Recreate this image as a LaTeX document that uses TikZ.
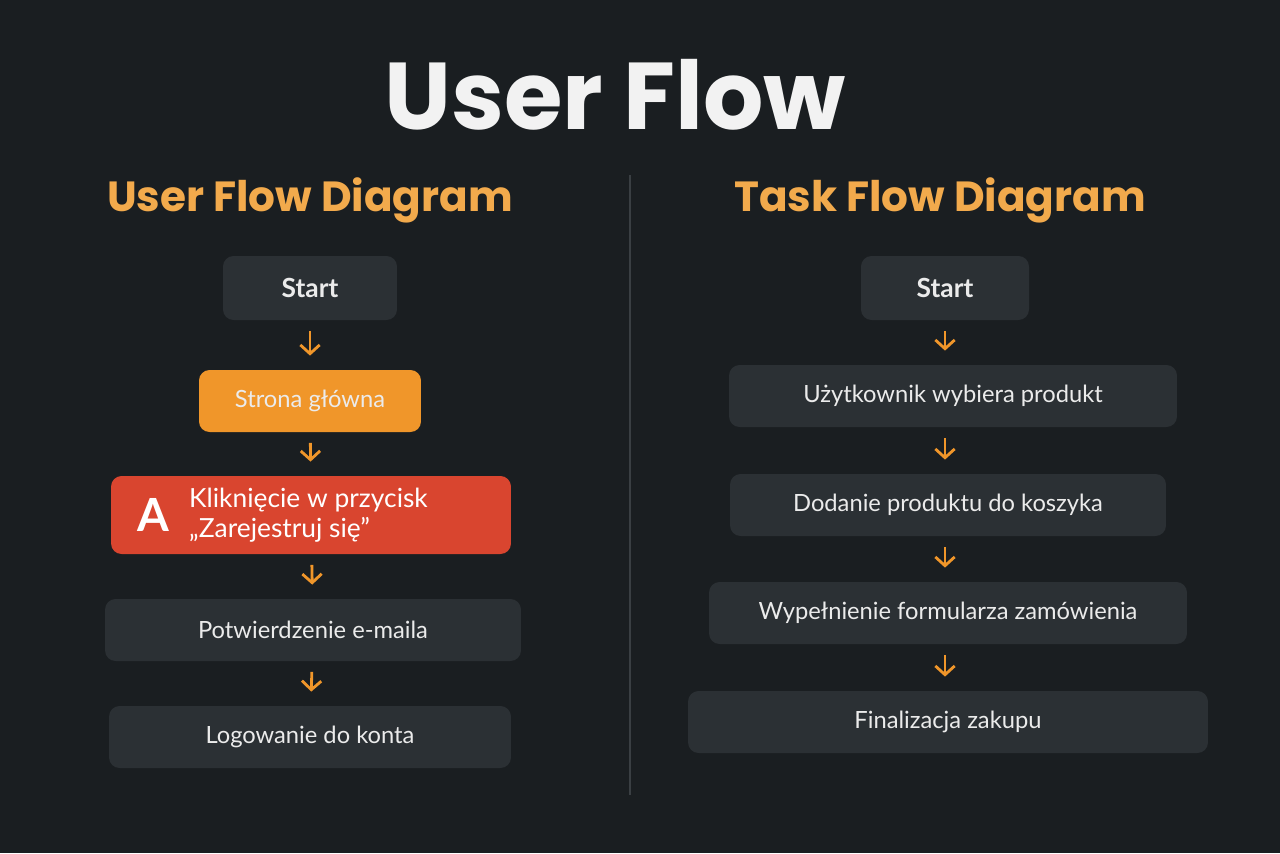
\documentclass[tikz,border=0pt]{standalone}
\usepackage{fontspec}
\setmainfont{Lato}
\newfontfamily\headfont{Poppins}
\usetikzlibrary{arrows.meta}
\definecolor{bgdark}{HTML}{1A1E21}
\definecolor{boxgray}{HTML}{2B3034}
\definecolor{flowora}{HTML}{F0962A}
\definecolor{flowred}{HTML}{D9452F}
\definecolor{headora}{HTML}{F2AA4C}
\definecolor{divgray}{HTML}{3A3F43}
\tikzset{
  flowbox/.style={draw=none, fill=boxgray, rounded corners=6pt, text=white!92!black,
    font=\fontsize{13.5}{16}\selectfont, inner sep=0pt},
  flow/.style={draw=flowora, line width=1.6pt, -{Straight Barb[length=5pt,width=11pt]},
    shorten <=6pt, shorten >=8pt},
}
\begin{document}
\begin{tikzpicture}[x=0.02cm, y=-0.02cm]
    \fill[bgdark] (0,0) rectangle (1280,853);
    \useasboundingbox (0,0) rectangle (1280,853);
    % headings
    \node[text=white!95!black, font=\headfont\bfseries\fontsize{54}{60}\selectfont] (title) at (615,95) {User Flow};
    \node[text=headora, font=\headfont\bfseries\fontsize{24}{28}\selectfont] (lefthead) at (310,200) {User Flow Diagram};
    \node[text=headora, font=\headfont\bfseries\fontsize{24}{28}\selectfont] (righthead) at (940,200) {Task Flow Diagram};
    \coordinate (divtop) at (630,175);
    \coordinate (divbot) at (630,795);
    \draw[divgray, line width=1pt] (divtop) -- (divbot);
    % user flow
    \node[flowbox, minimum width=3.48cm, minimum height=1.28cm, font=\bfseries\fontsize{15}{18}\selectfont] (ustart) at (310,288) {Start};
    \node[flowbox, fill=flowora, minimum width=4.44cm, minimum height=1.24cm] (home) at (310,401) {Strona główna};
    \node[flowbox, fill=flowred, minimum width=8cm, minimum height=1.56cm] (signup) at (311,515) {};
    \node[text=white, font=\bfseries\fontsize{26}{30}\selectfont] (signicon) at (153,515) {A};
    \node[text=white, anchor=west, align=left, font=\fontsize{15}{17}\selectfont] (signtext) at (183,515) {Kliknięcie w przycisk\\„Zarejestruj się''};
    \node[flowbox, minimum width=8.32cm, minimum height=1.24cm] (confirm) at (313,630) {Potwierdzenie e-maila};
    \node[flowbox, minimum width=8.04cm, minimum height=1.24cm] (login) at (310,737) {Logowanie do konta};
    \draw[flow] (ustart) -- (home);
    \draw[flow] (home) -- (signup);
    \draw[flow] (signup) -- (confirm);
    \draw[flow] (confirm) -- (login);
    % task flow
    \node[flowbox, minimum width=3.36cm, minimum height=1.28cm, font=\bfseries\fontsize{15}{18}\selectfont] (tstart) at (945,288) {Start};
    \node[flowbox, minimum width=8.96cm, minimum height=1.24cm] (pick) at (953,396) {Użytkownik wybiera produkt};
    \node[flowbox, minimum width=8.72cm, minimum height=1.24cm] (cart) at (948,505) {Dodanie produktu do koszyka};
    \node[flowbox, minimum width=9.56cm, minimum height=1.24cm] (form) at (948,613) {Wypełnienie formularza zamówienia};
    \node[flowbox, minimum width=10.4cm, minimum height=1.24cm] (buy) at (948,722) {Finalizacja zakupu};
    \draw[flow] (tstart) -- (tstart |- pick.north);
    \draw[flow] (tstart |- pick.south) -- (tstart |- cart.north);
    \draw[flow] (tstart |- cart.south) -- (tstart |- form.north);
    \draw[flow] (tstart |- form.south) -- (tstart |- buy.north);
\end{tikzpicture}
\end{document}
